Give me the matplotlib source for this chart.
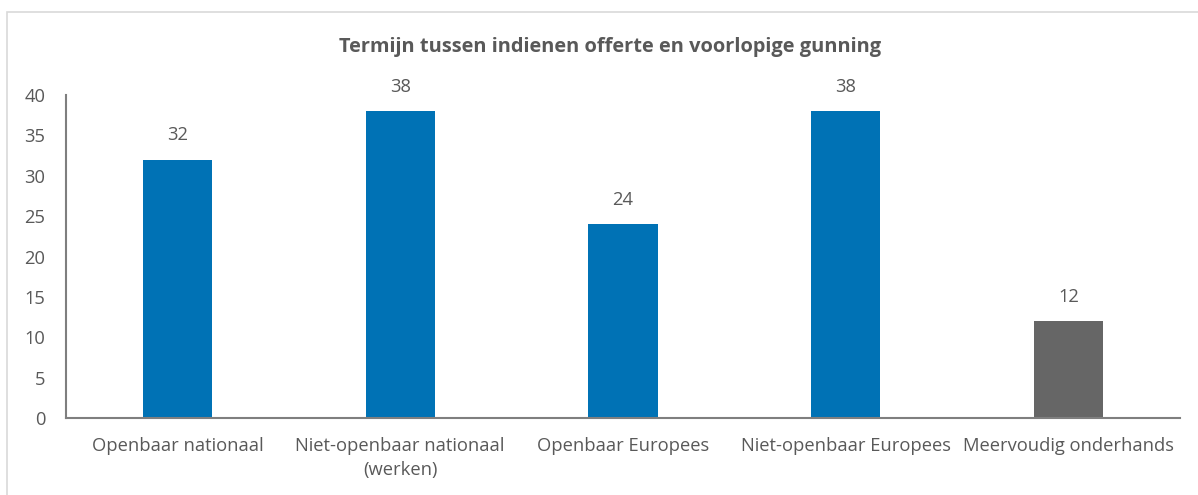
import matplotlib
matplotlib.use("Agg")
import matplotlib.pyplot as plt
from matplotlib.patches import Rectangle

categories = ["Openbaar nationaal", "Niet-openbaar nationaal\n(werken)", "Openbaar Europees",
              "Niet-openbaar Europees", "Meervoudig onderhands"]
values = [32, 38, 24, 38, 12]
colors = ["#0072B5", "#0072B5", "#0072B5", "#0072B5", "#666666"]
yticks = [0, 5, 10, 15, 20, 25, 30, 35, 40]
title = "Termijn tussen indienen offerte en voorlopige gunning"

W, H = 1198, 495
plt.rcParams["font.family"] = ["Open Sans", "DejaVu Sans"]
text_color = "#595959"

fig = plt.figure(figsize=(W / 100, H / 100), dpi=100)
fig.patches.append(Rectangle((7 / W, -0.1), 1.2, 1 - 12 / H + 0.1, transform=fig.transFigure,
                             fill=False, edgecolor="#D9D9D9", linewidth=1.2))

ax = fig.add_axes([66 / W, 1 - 418 / H, (1180 - 66) / W, (418 - 95) / H])
x = list(range(len(categories)))
bars = ax.bar(x, values, width=0.31, color=colors)
for b, v in zip(bars, values):
    ax.annotate(str(v), (b.get_x() + b.get_width() / 2, v), xytext=(0, 11),
                textcoords="offset points", ha="center", va="bottom",
                fontsize=13.2, color=text_color)

ax.set_xlim(-0.5, len(categories) - 0.5)
ax.set_ylim(0, 40)
ax.set_yticks(yticks)
ax.set_xticks(x)
ax.set_xticklabels(categories, linespacing=1.4)
ax.tick_params(axis="both", length=0, labelsize=13.2, colors=text_color)
ax.tick_params(axis="x", pad=14)
ax.tick_params(axis="y", pad=15)
for s in ("top", "right"):
    ax.spines[s].set_visible(False)
for s in ("left", "bottom"):
    ax.spines[s].set_color("#7F7F7F")
    ax.spines[s].set_linewidth(1.5)

fig.text(610 / W, 1 - 47 / H, title, ha="center", va="center", fontsize=14.4,
         fontweight="bold", color=text_color)

fig.savefig("out.png", dpi=100)
